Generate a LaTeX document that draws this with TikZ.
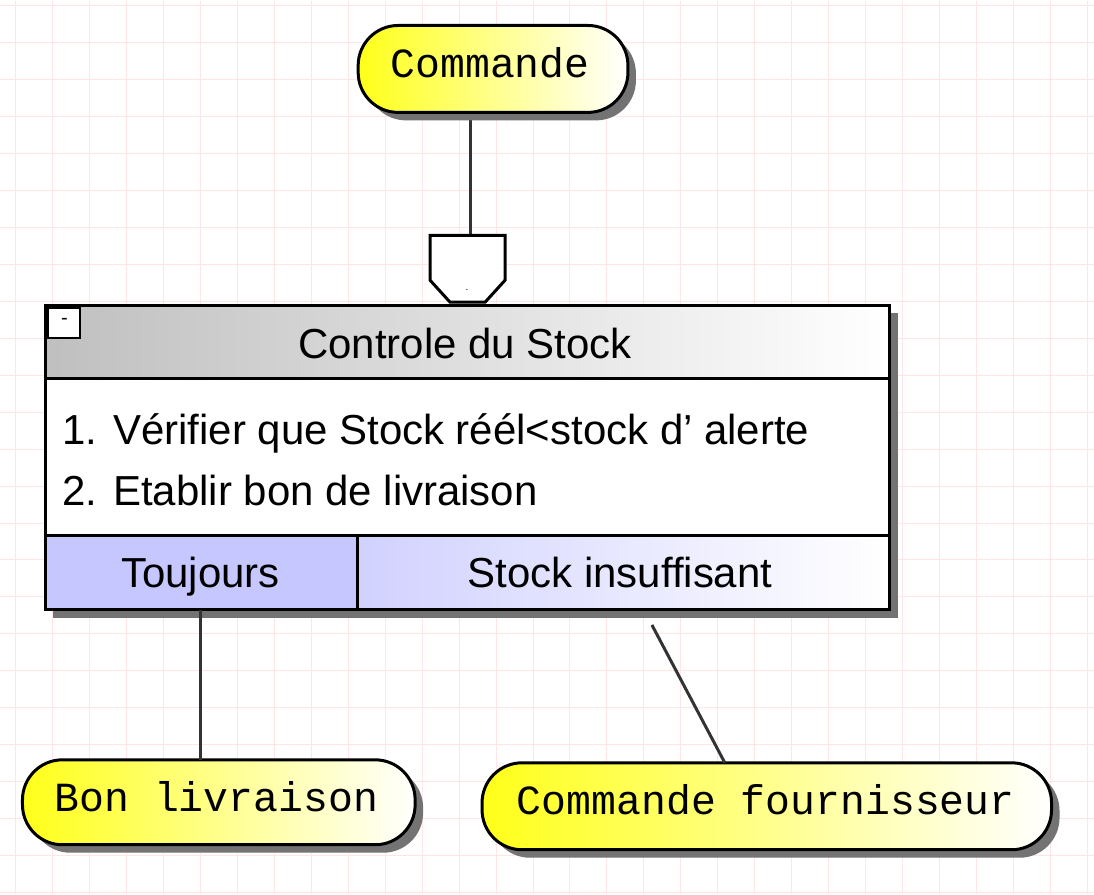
\documentclass[tikz,border=0pt]{standalone}
\usepackage{fontspec}
\setmainfont{Liberation Sans}
\newfontfamily\monof{Liberation Mono}
\begin{document}
\begin{tikzpicture}[x=1pt,y=-1pt,
 pill/.style={draw=black,line width=3pt,rounded corners=40pt,left color=yellow!90!white,right color=white},
 shad/.style={fill=black!55,rounded corners=40pt},
 mono/.style={font=\monof\fontsize{41.5}{44}\selectfont},
 sans/.style={font=\fontsize{42}{46}\selectfont},
 conn/.style={line width=3pt,draw=black!80}]
\fill[white] (0,0) rectangle (1094,894);
\foreach \x in {15,52,...,1094} \draw[red!10,line width=1pt] (\x,0)--(\x,894);
\foreach \y in {5,42,...,894} \draw[red!10,line width=1pt] (0,\y)--(1094,\y);
% connectors
\coordinate (c1) at (470,112); \coordinate (c2) at (470,235);
\draw[conn] (c1)--(c2);
% Commande
\fill[shad] (366,33) rectangle (636,120);
\draw[pill] (358,25) rectangle (628,112);
\node[mono] (cmd) at (490,62) {Commande};
% gate
\draw[line width=3pt,fill=white] (430,235)--(505,235)--(505,280)--(485,302)--(450,302)--(430,280)--cycle;
\node[inner sep=0pt] (gate) at (467,290) {.};
% main box shadow
\fill[black!55] (53,313) rectangle (898,618);
\shade[left color=black!25,right color=white] (45,305) rectangle (890,378);
\fill[white] (45,378) rectangle (890,535);
\fill[blue!22] (45,535) rectangle (357,610);
\shade[left color=blue!18,right color=white] (357,535) rectangle (890,610);
\draw[line width=3pt] (45,305) rectangle (890,610);
\draw[line width=3pt] (45,378)--(890,378) (45,535)--(890,535) (357,535)--(357,610);
\draw[line width=2pt,fill=white] (48,308) rectangle (80,338);
\node[font=\fontsize{20}{20}\selectfont] at (64,321) {-};
\node[sans] (title) at (465,343) {Controle du Stock};
\node[sans,anchor=west,inner sep=0pt] (l1) at (62,433) {1. Vérifier que Stock réél<stock d’ alerte};
\node[sans,anchor=west,inner sep=0pt] (l2) at (62,490) {2. Etablir bon de livraison};
\node[sans,anchor=base] (t1) at (200,588) {Toujours};
\node[sans,anchor=base] (t2) at (620,588) {Stock insuffisant};
% bottom pills
\fill[shad] (30,768) rectangle (423,853);
\draw[pill] (22,760) rectangle (415,845);
\node[mono] (bl) at (216,797) {Bon livraison};
\fill[shad] (490,771) rectangle (1060,858);
\draw[pill] (482,763) rectangle (1052,850);
\node[mono] (cf) at (766,800) {Commande fournisseur};
\coordinate (a1) at (200,610); \coordinate (a2) at (200,760);
\coordinate (b1) at (652,625); \coordinate (b2) at (725,763);
\draw[conn] (a1)--(a2);
\draw[conn] (b1)--(b2);
\end{tikzpicture}
\end{document}
